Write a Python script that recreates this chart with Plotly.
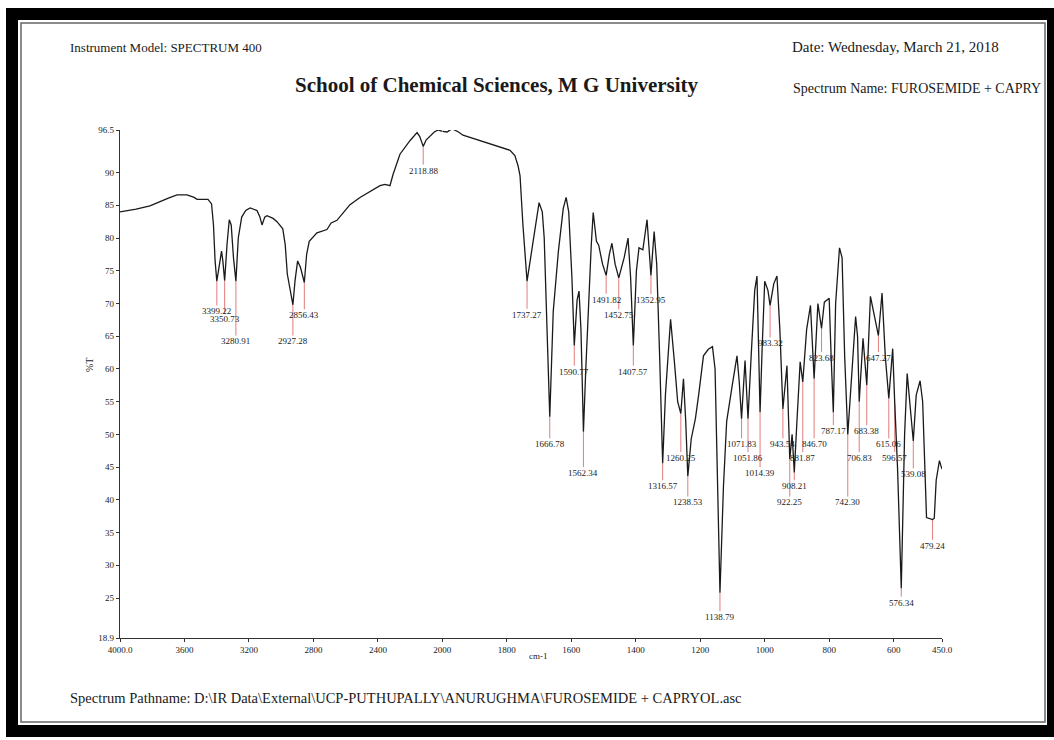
import plotly.graph_objects as go

# ---------------------------------------------------------------------------
# FT-IR spectrum: FUROSEMIDE + CAPRYOL  (wavenumber in cm-1, transmittance %T)
# ---------------------------------------------------------------------------

# Labelled absorption bands (band position, %T at the band minimum, %T where the label is printed)
peak_wn = [3399.22, 3350.73, 3280.91, 2927.28, 2856.43, 2118.88, 1737.27, 1666.78,
           1590.77, 1562.34, 1491.82, 1452.75, 1407.57, 1352.95, 1316.57, 1260.25,
           1238.53, 1138.79, 1071.83, 1051.86, 1014.39, 983.32, 943.54, 922.25,
           908.21, 881.87, 846.70, 823.68, 787.17, 742.30, 706.83, 683.38,
           647.27, 615.06, 596.57, 576.34, 539.08, 479.24]
peak_t = [73.4, 73.5, 73.4, 69.8, 73.2, 94.0, 73.4, 52.7,
          63.6, 50.4, 74.3, 73.9, 63.6, 74.3, 45.6, 53.2,
          43.6, 25.8, 52.4, 52.4, 53.4, 69.7, 53.9, 46.2,
          44.2, 58.0, 58.5, 66.2, 53.4, 50.0, 55.0, 57.5,
          65.1, 55.5, 54.7, 26.5, 49.0, 37.0]
label_t = [68.8, 67.6, 64.2, 64.2, 68.2, 90.3, 68.3, 48.5,
           59.6, 44.1, 70.6, 68.2, 59.6, 70.5, 42.1, 46.4,
           39.6, 22.1, 48.5, 46.4, 44.1, 63.9, 48.5, 39.6,
           42.1, 46.4, 48.5, 61.7, 50.5, 39.6, 46.4, 50.5,
           61.7, 48.5, 46.4, 24.3, 43.9, 33.0]

# Remaining points of the trace between the labelled bands
trace_wn = [4000, 3900, 3814, 3770, 3700, 3646, 3584, 3540, 3522, 3454, 3432, 3420, 3410,
            3385, 3370, 3362, 3336, 3322, 3310, 3296, 3266, 3245, 3220, 3193, 3150,
            3132, 3119, 3102, 3088, 3050, 3026, 2990, 2975, 2962, 2950, 2914, 2898,
            2880, 2842, 2826, 2778, 2716, 2690, 2654, 2600, 2573, 2511, 2470, 2430,
            2387, 2356, 2325, 2306, 2290, 2263, 2200, 2157, 2140, 2100, 2077, 2050,
            2027, 2000, 1985, 1970, 1950, 1936, 1883, 1830, 1790, 1775, 1765, 1759,
            1750, 1722, 1708, 1700, 1690, 1684, 1674, 1656, 1640, 1625, 1616, 1608,
            1598, 1582, 1576, 1570, 1566, 1555, 1545, 1538, 1532, 1522, 1515, 1503,
            1482, 1474, 1464, 1445, 1436, 1424, 1416, 1398, 1390, 1378, 1365, 1358,
            1343, 1335, 1326, 1308, 1292, 1280, 1270, 1252, 1245, 1228, 1215, 1205,
            1190, 1175, 1162, 1154, 1148, 1128, 1118, 1101, 1086, 1079, 1061, 1042,
            1031, 1024, 1018, 1008, 1000, 990, 972, 962, 953, 931, 915, 900, 890,
            870, 858, 835, 815, 800, 794, 780, 768, 760, 752, 730, 718, 712, 695,
            672, 660, 636, 626, 603, 588, 566, 558, 549, 530, 518, 510, 503, 498,
            474, 468, 458, 454, 450]
trace_t = [84.0, 84.4, 84.9, 85.4, 86.1, 86.6, 86.6, 86.2, 85.9, 85.9, 85.2, 82.0, 76.5,
           76.0, 78.0, 76.5, 79.0, 82.8, 82.0, 77.0, 80.0, 83.2, 84.2, 84.6, 84.2,
           83.2, 82.0, 83.2, 83.4, 83.0, 82.5, 81.4, 79.0, 74.5, 73.0, 73.5, 76.5,
           75.5, 77.5, 79.5, 80.8, 81.3, 82.3, 82.7, 84.3, 85.1, 86.2, 86.8, 87.5,
           88.0, 88.2, 88.0, 89.7, 91.0, 92.8, 94.9, 96.1, 95.5, 95.0, 95.5, 96.2,
           96.5, 96.3, 96.2, 96.7, 96.2, 95.7, 94.9, 94.1, 93.4, 92.6, 91.0, 89.5,
           82.0, 78.5, 83.5, 85.4, 84.0, 80.0, 64.0, 68.8, 78.0, 84.5, 86.2, 84.0,
           73.9, 70.5, 71.9, 66.0, 58.0, 60.0, 72.0, 79.0, 83.9, 79.5, 78.9, 76.0,
           77.5, 79.2, 76.0, 75.5, 77.0, 80.0, 74.0, 75.0, 78.5, 78.2, 82.8, 78.0,
           81.0, 76.0, 62.0, 56.0, 67.6, 61.0, 55.0, 58.5, 52.0, 49.3, 52.4, 56.0,
           62.0, 63.0, 63.4, 60.0, 45.0, 42.0, 52.0, 57.4, 62.0, 58.0, 61.3, 62.0,
           72.0, 74.2, 63.0, 63.0, 73.4, 72.0, 73.0, 74.2, 66.0, 60.5, 50.0, 52.0, 61.1,
           66.0, 69.7, 70.0, 70.2, 70.8, 62.0, 70.0, 78.5, 77.0, 62.0, 60.0, 68.0, 65.0, 64.7,
           71.1, 68.0, 71.6, 62.0, 63.1, 45.0, 50.0, 59.3, 54.0, 56.0, 58.2, 55.0, 46.0, 37.3,
           37.2, 43.0, 46.0, 45.3, 44.7]

# Axis ticks (the instrument scale changes at 2000 cm-1)
hi_ticks = [4000, 3600, 3200, 2800, 2400]
hi_ticktext = ["4000.0", "3600", "3200", "2800", "2400"]
lo_ticks = [2000, 1800, 1600, 1400, 1200, 1000, 800, 600, 450]
lo_ticktext = ["2000", "1800", "1600", "1400", "1200", "1000", "800", "600", "450.0"]
y_ticks = [18.9, 25, 30, 35, 40, 45, 50, 55, 60, 65, 70, 75, 80, 85, 90, 96.5]
y_ticktext = ["18.9", "25", "30", "35", "40", "45", "50", "55", "60", "65", "70",
              "75", "80", "85", "90", "96.5"]

# ---------------------------------------------------------------------------
SERIF = "Liberation Serif, Times New Roman, serif"
W, H = 1054, 740
PL, PR, PT, PB = 120, 942, 130, 638     # plot-area edges in page pixels
SPLIT = 5 / 12.75                        # 4000-2000 occupies 5 of 12.75 tick units


def px(x):
    return (x - PL) / (PR - PL)


def py(y):
    return (PB - y) / (PB - PT)


# merge trace points with the labelled band minima
points = sorted(list(zip(trace_wn, trace_t)) + list(zip(peak_wn, peak_t)),
                key=lambda p: -p[0])
hi = [p for p in points if p[0] >= 2000]
lo = [p for p in points if p[0] <= 2000]

fig = go.Figure()
line_style = dict(color="#1a1a1a", width=1.3)
fig.add_trace(go.Scatter(x=[p[0] for p in hi], y=[p[1] for p in hi], mode="lines",
                         line=line_style, xaxis="x", yaxis="y", hoverinfo="skip"))
fig.add_trace(go.Scatter(x=[p[0] for p in lo], y=[p[1] for p in lo], mode="lines",
                         line=line_style, xaxis="x2", yaxis="y", hoverinfo="skip"))

shapes = []
annotations = []

# band markers and labels
for wn, t, lt in zip(peak_wn, peak_t, label_t):
    xr = "x" if wn > 2000 else "x2"
    shapes.append(dict(type="line", xref=xr, yref="y", x0=wn, x1=wn, y0=t, y1=lt + 0.9,
                       line=dict(color="#e07c7c", width=1), layer="below"))
    annotations.append(dict(x=wn, y=lt, xref=xr, yref="y", text=f"{wn:.2f}",
                            showarrow=False, xanchor="center", yanchor="middle",
                            font=dict(family=SERIF, size=9, color="#222")))

# page frame: black border, white sheet, thin sheet edge
shapes.append(dict(type="rect", xref="paper", yref="paper", x0=px(6), x1=px(1060),
                   y0=py(737), y1=py(8), fillcolor="black", line=dict(width=0),
                   layer="below"))
shapes.append(dict(type="rect", xref="paper", yref="paper", x0=px(18), x1=px(1047),
                   y0=py(725), y1=py(20), fillcolor="white", line=dict(width=0),
                   layer="below"))
shapes.append(dict(type="rect", xref="paper", yref="paper", x0=px(21), x1=px(1045),
                   y0=py(722), y1=py(23), fillcolor="rgba(0,0,0,0)",
                   line=dict(color="#666", width=1.5), layer="below"))


def text(x, y, s, size=12, anchor="left", bold=False, angle=0):
    annotations.append(dict(x=px(x), y=py(y), xref="paper", yref="paper",
                            text=f"<b>{s}</b>" if bold else s, showarrow=False,
                            xanchor=anchor, yanchor="middle", textangle=angle,
                            font=dict(family=SERIF, size=size, color="#1a1a1a")))


text(68, 47, "Instrument Model: SPECTRUM 400", size=13)
text(790, 47, "Date: Wednesday, March 21, 2018", size=15)
text(497, 85, "School of Chemical Sciences, M G University", size=21, anchor="center", bold=True)
text(791, 89, "Spectrum Name: FUROSEMIDE + CAPRY", size=14)
text(68, 698, "Spectrum Pathname: D:\\IR Data\\External\\UCP-PUTHUPALLY\\ANURUGHMA\\FUROSEMIDE + CAPRYOL.asc", size=14.5)
text(538, 656, "cm-1", size=9, anchor="center")
text(89, 365, "%T", size=10, anchor="center", angle=-90)

axis_common = dict(showline=True, linecolor="#333", linewidth=1.2, ticks="outside",
                   ticklen=3, tickcolor="#333", showgrid=False, zeroline=False,
                   tickfont=dict(family=SERIF, size=9, color="#222"), fixedrange=True)

fig.update_layout(
    width=W, height=H,
    margin=dict(l=PL, r=W - PR, t=PT, b=H - PB),
    paper_bgcolor="white", plot_bgcolor="white",
    showlegend=False,
    xaxis=dict(domain=[0, SPLIT], range=[4000, 2000], anchor="y",
               tickmode="array", tickvals=hi_ticks, ticktext=hi_ticktext, **axis_common),
    xaxis2=dict(domain=[SPLIT, 1], range=[2000, 450], anchor="y",
                tickmode="array", tickvals=lo_ticks, ticktext=lo_ticktext, **axis_common),
    yaxis=dict(range=[18.9, 96.5], anchor="x", tickmode="array", tickvals=y_ticks,
               ticktext=y_ticktext, **axis_common),
    shapes=shapes,
    annotations=annotations,
)

fig.write_html("out.html")
